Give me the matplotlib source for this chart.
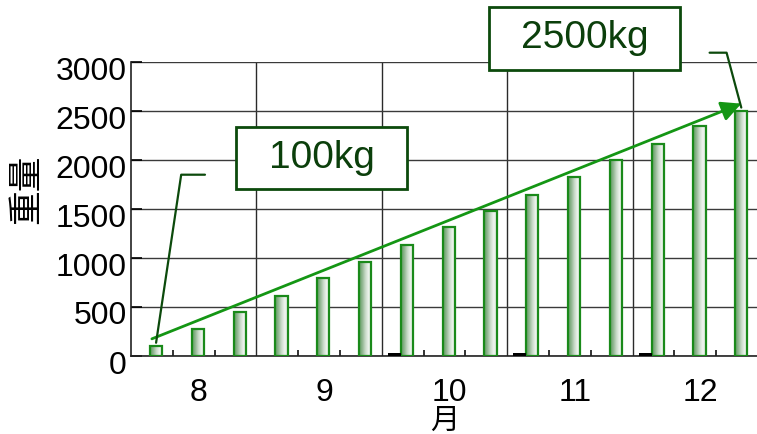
import numpy as np
import matplotlib
matplotlib.use("Agg")
import matplotlib.pyplot as plt
import matplotlib.transforms as mtransforms
from matplotlib.colors import LinearSegmentedColormap
from matplotlib.patches import Rectangle

plt.rcParams['font.family'] = ['Liberation Sans', 'Noto Sans CJK JP', 'DejaVu Sans']

# ---- data ----
months = ['8', '9', '10', '11', '12']
weights = [100, 270, 440, 610, 790, 950, 1130, 1310, 1470, 1640, 1820, 1990, 2160, 2340, 2500]
other = [0, 0, 0, 0, 0, 0, 30, 0, 0, 30, 0, 0, 30, 0, 0]
yticks = [0, 500, 1000, 1500, 2000, 2500, 3000]
label_first = '100kg'
label_last = '2500kg'

W, H = 757, 434
fig = plt.figure(figsize=(W / 100, H / 100), dpi=100)
ax = fig.add_axes([131 / W, (H - 355.5) / H, 627 / W, 294 / H])

n = len(weights)
slots = np.arange(n)
xg = slots + 0.6
xb = slots + 0.3
bw = 0.29

ax.set_xlim(0, n)
ax.set_ylim(0, 3000)

# gridlines
ax.set_yticks(yticks)
ax.yaxis.grid(True, color='#3a3a3a', lw=1.0)
month_bounds = np.arange(3, n, 3)
for mb in month_bounds:
    ax.axvline(mb, color='#2a2a2a', lw=1.0, zorder=0.5)
ax.set_axisbelow(True)

# gradient bars
cmap = LinearSegmentedColormap.from_list(
    'cyl', ['#5e9a5e', '#8fb58f', '#c9dac9', '#eef4ee', '#e2ebe2'])
grad = np.linspace(0, 1, 64).reshape(1, -1)
bars = ax.bar(xg, weights, width=bw, facecolor='none', edgecolor='#1a8a1a',
              lw=1.6, zorder=3)
for b in bars:
    x0, y0 = b.get_x(), b.get_y()
    w, h = b.get_width(), b.get_height()
    im = ax.imshow(grad, cmap=cmap, extent=[x0, x0 + w, y0, y0 + h],
                   aspect='auto', zorder=2.5, interpolation='bilinear')
    im.set_clip_path(b)
ax.set_xlim(0, n)
ax.set_ylim(0, 3000)

ax.bar(xb, other, width=0.31, color='black', zorder=3)

# spines
for s in ['top', 'right']:
    ax.spines[s].set_visible(False)
ax.spines['left'].set_color('#222222')
ax.spines['bottom'].set_color('#222222')
ax.spines['left'].set_linewidth(1.2)
ax.spines['bottom'].set_linewidth(1.2)

# ticks
ax.set_xticks(np.arange(3, n + 1, 3) - 1.5 + 0.12)
ax.set_xticklabels(months)
ax.set_xticks([s for s in range(1, n) if s % 3 != 0], minor=True)
ax.tick_params(axis='x', which='major', length=0, pad=16, labelsize=23)
ax.tick_params(axis='x', which='minor', direction='in', length=4.5, width=1.2, color='#111111')
ax.tick_params(axis='y', direction='in', length=8, width=1.2, pad=3, labelsize=23)
off = mtransforms.ScaledTranslation(0, -6.5 / 100, fig.dpi_scale_trans)
for lab in ax.get_yticklabels():
    lab.set_transform(lab.get_transform() + off)

ax.set_xlabel('月', fontsize=21, va='center')
ax.xaxis.set_label_coords(0.5, (355.5 - 421) / 294)
ax.set_ylabel('重量', fontsize=25, va='center')
ax.yaxis.set_label_coords((27 - 131) / 627, (355.5 - 189) / 294)

# trend arrow
ax.annotate('', xy=(xg[-1], weights[-1] + 70), xytext=(xg[0] - 0.1, weights[0] + 70),
            arrowprops=dict(arrowstyle='-|>', color='#149614', lw=2,
                            mutation_scale=30, shrinkA=0, shrinkB=0), zorder=5)

# leader lines
lead = '#0c4a0c'
ax.annotate('', xy=(xg[0], weights[0] + 30), xytext=(35.2, 121),
            textcoords='offset points',
            arrowprops=dict(arrowstyle='-', color=lead, lw=1.6, shrinkA=0, shrinkB=0,
                            connectionstyle='angle,angleA=0,angleB=81.5,rad=0'), zorder=6)
ax.annotate('', xy=(xg[-1], weights[-1] + 30), xytext=(-22.8, 39.5),
            textcoords='offset points',
            arrowprops=dict(arrowstyle='-', color=lead, lw=1.6, shrinkA=0, shrinkB=0,
                            connectionstyle='angle,angleA=0,angleB=105,rad=0'),
            zorder=6, annotation_clip=False)

# label boxes
def box(x0, y0, x1, y1, txt):
    r = Rectangle((x0 / W, 1 - y1 / H), (x1 - x0) / W, (y1 - y0) / H,
                  transform=fig.transFigure, facecolor='white', edgecolor='#0c4a0c',
                  lw=2, zorder=10)
    fig.add_artist(r)
    fig.text((x0 + x1) / 2 / W, 1 - (y0 + y1) / 2 / H, txt, ha='center', va='center',
             fontsize=28, color='#0b3f0b', zorder=11)

box(236, 127, 407, 189, label_first)
box(489, 7, 680, 70, label_last)

fig.savefig('out.png', dpi=100)
